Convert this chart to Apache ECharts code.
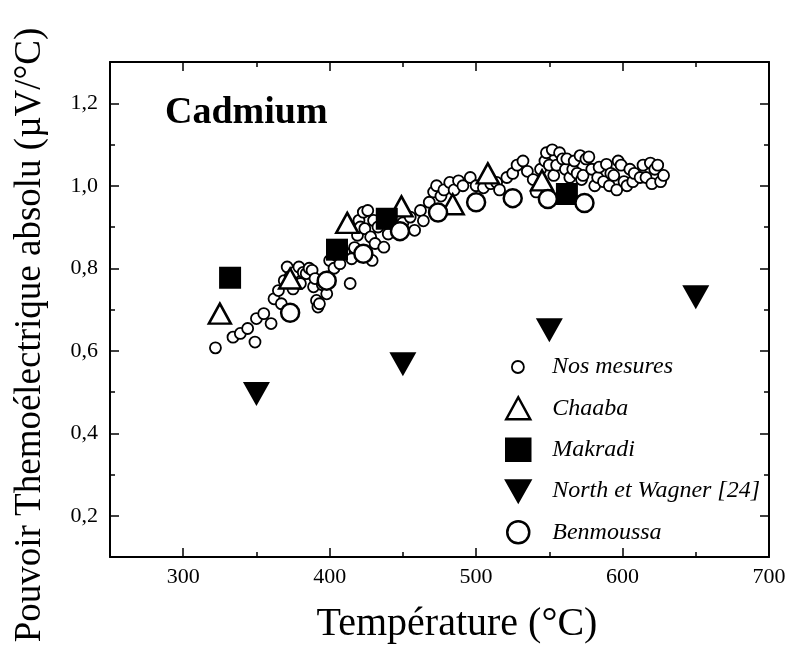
<!DOCTYPE html>
<html><head><meta charset="utf-8">
<script src="https://cdn.jsdelivr.net/npm/echarts@6/dist/echarts.min.js"></script>
<style>html,body{margin:0;padding:0;background:#fff}#c{width:789px;height:656px}</style>
</head><body><div id="c"></div>
<script>
const nosMesures = [[322,0.607],[334,0.633],[339,0.642],[344,0.654],[349,0.621],[350,0.678],[355,0.69],[360,0.666],[362,0.726],[365,0.746],[367,0.714],[369,0.77],[371,0.803],[373,0.78],[375,0.75],[376,0.79],[379,0.803],[380,0.763],[382,0.79],[384,0.787],[386,0.8],[388,0.795],[389,0.755],[390,0.775],[391,0.722],[392,0.706],[393,0.714],[395,0.76],[398,0.738],[399,0.779],[400,0.819],[403,0.8],[405,0.83],[407,0.811],[410,0.839],[414,0.763],[415,0.823],[417,0.85],[419,0.88],[420,0.916],[421,0.9],[423,0.936],[424,0.896],[426,0.94],[428,0.876],[429,0.819],[430,0.916],[431,0.86],[433,0.9],[437,0.851],[440,0.883],[445,0.9],[450,0.91],[455,0.924],[458,0.892],[462,0.94],[464,0.915],[468,0.96],[471,0.985],[473,1.0],[476,0.975],[478,0.99],[482,1.008],[485,0.99],[488,1.012],[491,1.0],[496,1.02],[500,1.0],[505,0.995],[510,1.005],[514,1.008],[516,0.99],[521,1.02],[525,1.03],[528,1.05],[532,1.06],[535,1.035],[539,1.015],[541,0.985],[544,1.04],[547,1.06],[548,1.08],[550,1.05],[552,1.087],[553,1.025],[555,1.05],[557,1.08],[559,1.065],[561,1.04],[562,1.065],[564,1.02],[566,1.04],[567,1.06],[569,1.03],[571,1.073],[572,1.015],[573,1.025],[575,1.065],[577,1.07],[579,1.04],[581,1.0],[583,1.02],[584,1.045],[587,1.01],[589,1.052],[591,1.0],[592,1.03],[594,1.025],[596,0.99],[597,1.06],[599,1.05],[601,1.01],[603,1.0],[605,1.04],[607,1.01],[608,1.03],[612,1.02],[614,1.05],[616,1.02],[619,1.055],[620,1.005],[622,1.04],[624,1.05],[626,1.01],[628,1.025]];
const chaaba = [[325,0.69],[373,0.775],[412,0.91],[449,0.95],[484,0.955],[508,1.03],[545,1.013]];
const makradi = [[332,0.777],[405,0.845],[439,0.92],[562,0.98]];
const northWagner = [[350,0.495],[450,0.567],[550,0.65],[650,0.73]];
const benmoussa = [[373,0.692],[398,0.77],[423,0.835],[448,0.89],[474,0.935],[500,0.96],[525,0.97],[549,0.968],[574,0.958]];

const xMajorTicks = [300,400,500,600,700];
const xMinorTicks = [250,350,450,550,650];
const yMajorTicks = [0.2,0.4,0.6,0.8,1.0,1.2];
const yMinorTicks = [0.1,0.3,0.5,0.7,0.9,1.1,1.3];
const seriesNames = ['Nos mesures','Chaaba','Makradi','North et Wagner [24]','Benmoussa'];
const chartTitle = 'Cadmium';
const xTitle = 'Température (°C)';
const yTitle = 'Pouvoir Themoélectrique absolu (µV/°C)';

const SERIF = "'Liberation Serif', 'DejaVu Serif', serif";
const X_MIN = 250, X_MAX = 700, Y_MIN = 0.1, Y_MAX = 1.3;
const DOWN_TRIANGLE = 'path://M0,0L26,0L13,23Z';

function xAxisDef(position, ticks, len, showLine, showLabel) {
  return {
    type: 'value', position: position, min: X_MIN, max: X_MAX,
    axisLine: {show: showLine, onZero: false, lineStyle: {color: '#000', width: 2}},
    axisTick: {show: true, inside: true, length: len, customValues: ticks, lineStyle: {color: '#000', width: 1.5}},
    axisLabel: {show: showLabel, customValues: ticks, color: '#000', fontSize: 22, fontFamily: SERIF, margin: 9},
    splitLine: {show: false}
  };
}
function yAxisDef(position, ticks, len, showLine, showLabel) {
  return {
    type: 'value', position: position, min: Y_MIN, max: Y_MAX,
    axisLine: {show: showLine, onZero: false, lineStyle: {color: '#000', width: 2}},
    axisTick: {show: true, inside: true, length: len, customValues: ticks, lineStyle: {color: '#000', width: 1.5}},
    axisLabel: {show: showLabel, customValues: ticks, color: '#000', fontSize: 22, fontFamily: SERIF, margin: 12,
      formatter: v => v.toFixed(1).replace('.', ',')},
    splitLine: {show: false}
  };
}

const chart = echarts.init(document.getElementById('c'), null, {renderer: 'canvas'});
const openStyle = (bw) => ({color: '#fff', borderColor: '#000', borderWidth: bw, opacity: 1});
const fillStyle = {color: '#000', borderColor: '#000', borderWidth: 0, opacity: 1};
const legendText = (pad) => ({fontFamily: SERIF, fontStyle: 'italic', fontSize: 24, lineHeight: 24, color: '#000', padding: [0, 0, 0, pad]});

chart.setOption({
  animation: false,
  backgroundColor: '#fff',
  grid: {left: 110, right: 20, top: 62, bottom: 99, containLabel: false},
  title: {text: chartTitle, left: 160, top: 89,
    textStyle: {fontFamily: SERIF, fontWeight: 'bold', fontSize: 38, color: '#000'}},
  xAxis: [
    xAxisDef('bottom', xMajorTicks, 9, true, true),
    xAxisDef('bottom', xMinorTicks, 5, false, false),
    xAxisDef('top', xMajorTicks, 9, true, false),
    xAxisDef('top', xMinorTicks, 5, false, false)
  ],
  yAxis: [
    yAxisDef('left', yMajorTicks, 9, true, true),
    yAxisDef('left', yMinorTicks, 5, false, false),
    yAxisDef('right', yMajorTicks, 9, true, false),
    yAxisDef('right', yMinorTicks, 5, false, false)
  ],
  legend: [
    {data: [seriesNames[0]], orient: 'vertical', left: 506, top: 350, itemWidth: 12, itemHeight: 12,
      selectedMode: false, itemGap: 17, symbolKeepAspect: true,
      itemStyle: {borderWidth: 1.8},
      textStyle: legendText(23)},
    {data: [seriesNames[1], seriesNames[2], {name: seriesNames[3], icon: DOWN_TRIANGLE}, seriesNames[4]],
      orient: 'vertical', left: 500, top: 391, itemWidth: 24, itemHeight: 22,
      selectedMode: false, itemGap: 17, symbolKeepAspect: true,
      itemStyle: {borderWidth: 2.5},
      textStyle: legendText(17)}
  ],
  graphic: [
    {type: 'text', x: 457, y: 624, style: {text: xTitle, fontFamily: SERIF, fontSize: 40, fill: '#000', align: 'center', verticalAlign: 'middle'}},
    {type: 'text', x: 30, y: 335, rotation: Math.PI / 2, style: {text: yTitle, fontFamily: SERIF, fontSize: 37, fill: '#000', align: 'center', verticalAlign: 'middle'}}
  ],
  series: [
    {name: seriesNames[0], type: 'scatter', data: nosMesures, symbol: 'circle', symbolSize: 11, itemStyle: openStyle(1.8), z: 2},
    {name: seriesNames[1], type: 'scatter', data: chaaba, symbol: 'triangle', symbolSize: [22, 20], itemStyle: openStyle(2.5), z: 3},
    {name: seriesNames[2], type: 'scatter', data: makradi, symbol: 'rect', symbolSize: 22, itemStyle: fillStyle, z: 4},
    {name: seriesNames[3], type: 'scatter', data: northWagner, symbol: 'triangle', symbolRotate: 180, symbolSize: [27, 24], itemStyle: fillStyle, z: 5},
    {name: seriesNames[4], type: 'scatter', data: benmoussa, symbol: 'circle', symbolSize: 18, itemStyle: openStyle(2.5), z: 6}
  ]
});
</script>
</body></html>
